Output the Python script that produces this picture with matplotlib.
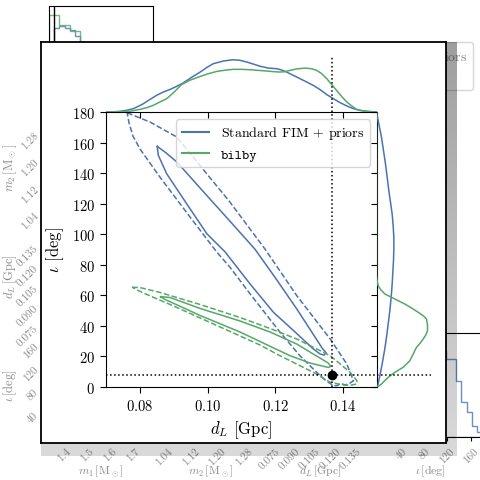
import numpy as np
import matplotlib.pyplot as plt
from matplotlib.lines import Line2D

plt.rcParams["font.family"] = "serif"
plt.rcParams["font.serif"] = ["cmr10"]
plt.rcParams["mathtext.fontset"] = "cm"
plt.rcParams["axes.formatter.use_mathtext"] = True
plt.rcParams["axes.unicode_minus"] = False

blue = "#4C72B0"
green = "#55A868"
faded = "#8c8c8c"

labels = ["Standard FIM $+$ priors", "bilby"]

# injected values
dl_true = 0.1367
iota_true = 8.0
m1_true = 1.358

# FIM + priors outlines in (d_L [Gpc], iota [deg]), 68% solid / 95% dashed
fim68_dl = [0.0851, 0.0874, 0.0909, 0.0978, 0.1066, 0.1140, 0.1203, 0.1264,
            0.1318, 0.1339, 0.1351, 0.1345, 0.1333, 0.1313, 0.1259, 0.1195,
            0.1126, 0.1066, 0.1052, 0.0998, 0.0938, 0.0879, 0.0854, 0.0851]
fim68_iota = [157.5, 153.8, 147.3, 130.2, 108.6, 90.3, 70.7, 51.1,
              32.7, 25.5, 22.3, 20.9, 21.6, 24.9, 36.0, 48.9,
              67.4, 84.4, 88.4, 100.3, 120.0, 139.6, 151.8, 157.5]
fim95_dl = [0.0762, 0.0830, 0.0909, 0.0969, 0.1066, 0.1170, 0.1264, 0.1363,
            0.1412, 0.1432, 0.1422, 0.1407, 0.1395, 0.1383, 0.1372, 0.1348,
            0.1323, 0.1274, 0.1214, 0.1126, 0.1066, 0.1027, 0.0948, 0.0859,
            0.0800, 0.0779, 0.0767, 0.0762]
fim95_iota = [179.5, 173.4, 163.6, 147.3, 121.1, 90.3, 59.8, 31.4,
              15.1, 4.1, 2.6, 1.3, 2.3, 0.9, 0.9, 4.6,
              9.6, 20.3, 36.0, 60.9, 78.5, 88.4, 111.3, 137.4,
              155.8, 164.3, 173.4, 179.5]

# bilby outlines
bilby68_dl = [0.0861, 0.0889, 0.0978, 0.1096, 0.1185, 0.1264, 0.1318, 0.1357,
              0.1365, 0.1357, 0.1303, 0.1244, 0.1155, 0.1096, 0.0978, 0.0904,
              0.0874, 0.0861]
bilby68_iota = [59.1, 58.6, 51.4, 43.2, 36.0, 28.1, 20.9, 15.7,
                13.5, 12.8, 15.7, 20.5, 29.8, 36.0, 46.8, 54.3,
                57.3, 59.1]
bilby95_dl = [0.0777, 0.0800, 0.0859, 0.0978, 0.1096, 0.1185, 0.1264, 0.1363,
              0.1422, 0.1442, 0.1442, 0.1422, 0.1402, 0.1363, 0.1313, 0.1214,
              0.1155, 0.1096, 0.0978, 0.0889, 0.0830, 0.0794, 0.0777]
bilby95_iota = [65.3, 65.1, 61.9, 54.0, 45.5, 38.3, 31.4, 20.5,
                9.6, 4.1, 2.0, 1.1, 1.3, 3.1, 9.6, 20.5,
                27.5, 33.4, 45.2, 54.0, 59.6, 63.2, 65.3]

# marginal densities of d_L
fim_kde_dl = [0.0701, 0.0721, 0.0741, 0.0761, 0.0780, 0.0795, 0.0810, 0.0830,
              0.0849, 0.0869, 0.0889, 0.0909, 0.0928, 0.0953, 0.0978, 0.0998,
              0.1017, 0.1047, 0.1076, 0.1096, 0.1116, 0.1136, 0.1155, 0.1180,
              0.1205, 0.1219, 0.1234, 0.1254, 0.1274, 0.1294, 0.1313, 0.1333,
              0.1353, 0.1372, 0.1392, 0.1412, 0.1432, 0.1451, 0.1471, 0.1486,
              0.1500]
fim_dl_kde = [0.0, 0.08, 0.32, 0.80, 1.59, 2.71, 3.98, 6.05,
              7.96, 9.55, 10.8, 12.3, 13.9, 16.6, 19.1, 21.3,
              23.1, 24.4, 25.0, 24.7, 23.9, 22.9, 21.9, 21.0,
              20.7, 20.1, 19.1, 17.5, 15.9, 14.3, 12.7, 10.7,
              8.3, 6.4, 4.5, 2.9, 1.59, 0.80, 0.32, 0.08,
              0.0]
bilby_kde_dl = [0.0701, 0.0741, 0.0770, 0.0800, 0.0820, 0.0839, 0.0859, 0.0879,
                0.0899, 0.0923, 0.0948, 0.0978, 0.1002, 0.1027, 0.1052, 0.1076,
                0.1101, 0.1126, 0.1150, 0.1175, 0.1195, 0.1214, 0.1229, 0.1244,
                0.1264, 0.1288, 0.1308, 0.1323, 0.1338, 0.1353, 0.1367, 0.1382,
                0.1397, 0.1412, 0.1427, 0.1441, 0.1456, 0.1471, 0.1500]
bilby_dl_kde = [0.0, 0.08, 0.32, 1.27, 2.07, 3.18, 4.78, 6.37,
                9.2, 13.1, 15.2, 17.0, 18.3, 19.4, 20.0, 20.4,
                20.4, 20.2, 19.9, 19.6, 19.3, 19.1, 19.3, 19.9,
                20.6, 21.0, 20.7, 19.9, 18.3, 15.9, 13.2, 10.3,
                7.4, 4.78, 2.87, 1.27, 0.64, 0.32, 0.0]

# marginal densities of iota
fim_kde_iota = [0.0, 7.4, 15.1, 23.8, 32.5, 41.2, 49.9, 58.7, 67.4, 75.1,
                82.7, 90.3, 98.0, 105.6, 113.2, 120.9, 128.5, 137.3, 146.0,
                154.7, 163.4, 172.2, 180.0]
fim_iota_kde = [0.0006, 0.0020, 0.0034, 0.0048, 0.0060, 0.0070, 0.0080, 0.0088,
                0.0094, 0.0098, 0.0102, 0.0104, 0.0104, 0.0100, 0.0094, 0.0084,
                0.0074, 0.0064, 0.0054, 0.0042, 0.0030, 0.0014, 0.0]
bilby_kde_iota = [0.0, 2.0, 6.3, 9.6, 12.9, 17.2, 21.6, 26.0, 28.7, 31.4, 34.1,
                  36.8, 40.7, 44.5, 46.7, 48.9, 51.6, 54.3, 56.5, 58.7, 60.9,
                  63.6, 66.3, 69.9, 73.4, 180.0]
bilby_iota_kde = [0.0006, 0.0030, 0.0070, 0.0110, 0.0160, 0.0200, 0.0220, 0.0240,
                  0.0262, 0.0280, 0.0296, 0.0306, 0.0306, 0.0300, 0.0280, 0.0250,
                  0.0212, 0.0170, 0.0130, 0.0090, 0.0050, 0.0026, 0.0010, 0.0003,
                  0.0, 0.0]

# corner plot underneath
corner_names = [r"$m_1\,[\mathrm{M}_\odot]$", r"$m_2\,[\mathrm{M}_\odot]$",
                r"$d_L\,[\mathrm{Gpc}]$", r"$\iota\,[\mathrm{deg}]$"]
corner_lims = [(1.335, 1.787), (1.025, 1.335), (0.074, 0.1515), (0, 180)]
corner_ticks = [[1.4, 1.5, 1.6, 1.7], [1.04, 1.12, 1.20, 1.28],
                [0.075, 0.090, 0.105, 0.120, 0.135], [40, 80, 120, 160]]
corner_ticklabels = [["1.4", "1.5", "1.6", "1.7"], ["1.04", "1.12", "1.20", "1.28"],
                     ["0.075", "0.090", "0.105", "0.120", "0.135"],
                     ["40", "80", "120", "160"]]
m1_fim_hist = [40, 81.7, 83.7, 81.7, 79.3, 74.3, 60, 50, 40, 32,
               25, 18, 13, 9, 6, 4, 2, 1, 0.5, 0]
m1_bilby_hist = [94.3, 94.3, 85, 85, 78.3, 78.3, 60, 48, 38, 30,
                 22, 16, 11, 7, 4, 2, 1, 0.5, 0, 0]
iota_fim_hist = [14, 28, 41, 55, 63, 73, 79, 86, 90, 93,
                 94.5, 92, 86, 78, 78, 56, 35, 25, 11, 5]
iota_bilby_hist = [10, 40, 70, 88, 94, 80, 40, 10, 2, 0,
                   0, 0, 0, 0, 0, 0, 0, 0, 0, 0]

W, H = 480, 481
fig = plt.figure(figsize=(W / 100, H / 100), dpi=100)


def box(x0, y0, x1, y1):
    return [x0 / W, 1 - y1 / H, (x1 - x0) / W, (y1 - y0) / H]


# ---- background corner plot
for r in range(4):
    for c in range(r + 1):
        x0 = 49 + 109.7 * c
        y0 = 7 + 109 * r
        cax = fig.add_axes(box(x0, y0, x0 + 104, y0 + 104))
        cax.set_xlim(corner_lims[c])
        cax.set_xticks(corner_ticks[c])
        cax.tick_params(length=3, colors="k", labelcolor=faded, labelsize=8)
        if r == 3:
            cax.set_xticklabels(corner_ticklabels[c], rotation=45)
            cax.set_xlabel(corner_names[c], color=faded, fontsize=8.5)
            cax.xaxis.set_label_coords(0.5, -0.25)
        else:
            cax.set_xticklabels([])
        if r == c:
            cax.set_yticks([])
            edges = np.linspace(corner_lims[c][0], corner_lims[c][1], 21)
            if c == 0:
                cax.stairs(m1_fim_hist, edges, color=blue, alpha=0.8)
                cax.stairs(m1_bilby_hist, edges, color=green, alpha=0.8)
                cax.axvline(m1_true, color="k", lw=1)
                cax.set_ylim(0, 1.1 * max(m1_bilby_hist))
            if c == 3:
                cax.stairs(iota_fim_hist, edges, color=blue, alpha=0.8)
                cax.stairs(iota_bilby_hist, edges, color=green, alpha=0.8)
                cax.set_ylim(0, 1.1 * max(iota_fim_hist))
        else:
            cax.set_ylim(corner_lims[r])
            cax.set_yticks(corner_ticks[r])
            if c == 0:
                cax.set_yticklabels(corner_ticklabels[r], rotation=45)
                cax.set_ylabel(corner_names[r], color=faded, fontsize=9)
                cax.yaxis.set_label_coords(-0.29, 0.5)
            else:
                cax.set_yticklabels([])

handles = [Line2D([], [], color=blue), Line2D([], [], color=green)]
fleg = fig.legend(handles, labels, loc="upper right",
                  bbox_to_anchor=(473 / W, 1 - 43 / H), borderaxespad=0,
                  fontsize=10, labelcolor=faded)
fleg.get_texts()[1].set_family("cmtt10")

# shadow behind the zoom panel
sh = fig.add_axes(box(41, 43, 457, 457), zorder=7)
shade = np.zeros((100, 1, 4))
shade[:, 0, 3] = np.linspace(0.38, 0.15, 100)
sh.imshow(shade, aspect="auto", interpolation="bilinear")
sh.axis("off")

# ---- zoom panel
big = fig.add_axes(box(41, 43, 446, 444), zorder=10)
big.set_xticks([])
big.set_yticks([])
for s in big.spines.values():
    s.set_linewidth(1.3)

ax = fig.add_axes(box(106.2, 113, 376.5, 388), zorder=12)
ax.plot(fim68_dl, fim68_iota, color=blue, lw=1.1)
ax.plot(fim95_dl, fim95_iota, color=blue, lw=1.1, ls="--")
ax.plot(bilby68_dl, bilby68_iota, color=green, lw=1.1)
ax.plot(bilby95_dl, bilby95_iota, color=green, lw=1.1, ls="--")
ax.axvline(dl_true, color="k", ls=":", lw=1.1)
ax.axhline(iota_true, color="k", ls=":", lw=1.1)
ax.plot(dl_true, iota_true, "o", color="k", ms=6, zorder=5)
ax.set_xlim(0.07, 0.15)
ax.set_ylim(0, 180)
ax.set_xticks([0.08, 0.10, 0.12, 0.14])
ax.set_yticks(np.arange(0, 181, 20))
ax.tick_params(labelsize=10.5, length=4.5)
ax.set_xlabel(r"$d_L$ [Gpc]", fontsize=12)
ax.set_ylabel(r"$\iota$ [deg]", fontsize=12)
leg = ax.legend(handles, labels, loc="upper right", fontsize=10)
leg.get_texts()[1].set_family("cmtt10")

axt = fig.add_axes(box(106.2, 58, 376.5, 113), zorder=13)
axt.plot(fim_kde_dl, fim_dl_kde, color=blue, lw=1.1)
axt.plot(bilby_kde_dl, bilby_dl_kde, color=green, lw=1.1)
axt.axvline(dl_true, color="k", ls=":", lw=1.1)
axt.set_xlim(0.07, 0.15)
axt.set_ylim(0, 26.3)
axt.set_xticks([0.08, 0.10, 0.12, 0.14])
axt.set_yticks([])
axt.tick_params(labelbottom=False, length=4.5)
axt.patch.set_visible(False)
for s in axt.spines.values():
    s.set_visible(False)

axr = fig.add_axes(box(376.5, 113, 431, 388), zorder=13)
axr.plot(fim_iota_kde, fim_kde_iota, color=blue, lw=1.1)
axr.plot(bilby_iota_kde, bilby_kde_iota, color=green, lw=1.1)
axr.axhline(iota_true, color="k", ls=":", lw=1.1)
axr.set_ylim(0, 180)
axr.set_xlim(0, 0.0327)
axr.set_yticks(np.arange(0, 181, 20))
axr.set_xticks([])
axr.tick_params(labelleft=False, length=4.5)
axr.patch.set_visible(False)
for s in axr.spines.values():
    s.set_visible(False)

fig.savefig("out.png", dpi=100)
